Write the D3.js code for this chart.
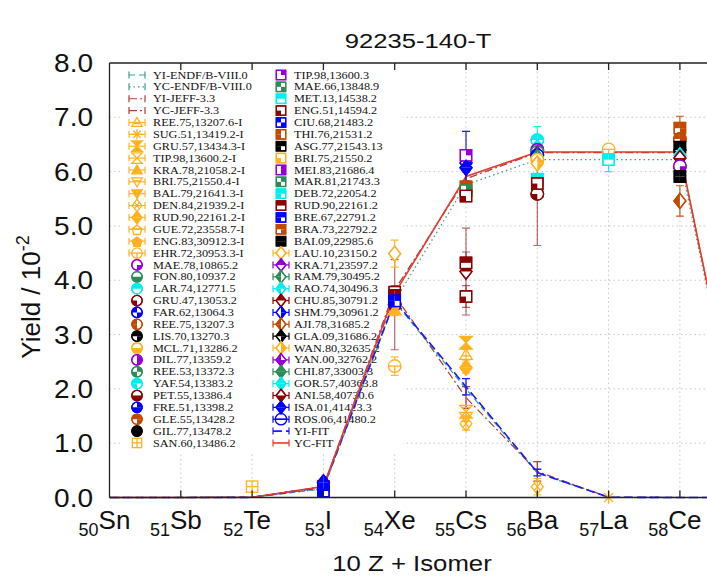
<!DOCTYPE html>
<html><head><meta charset="utf-8">
<script src="https://cdn.jsdelivr.net/npm/d3@7"></script>
<style>html,body{margin:0;padding:0;background:#fff;}svg{display:block;}</style>
</head><body>
<svg id="chart" width="707" height="576"></svg>
<script>
// ---------------- DATA ----------------
const title = "92235-140-T";
const zPositions = [500, 510, 520, 530, 540, 550, 560, 570, 580];
const zNumbers   = ["50", "51", "52", "53", "54", "55", "56", "57", "58"];
const zSymbols   = ["Sn", "Sb", "Te", "I", "Xe", "Cs", "Ba", "La", "Ce"];
const yTicks = [0, 1, 2, 3, 4, 5, 6, 7, 8];

// evaluated / fitted curves, x = 10 Z + isomer
const curveX   = [500, 510, 520, 530, 540, 550, 560, 570, 580, 590];
const yiEndf   = [0, 0, 0.003, 0.16, 3.60, 2.00, 0.45, 0.005, 0, 0];
const ycEndf   = [0, 0, 0.003, 0.16, 3.62, 5.76, 6.22, 6.22, 6.22, 0];
const yiJeff   = [0, 0, 0.003, 0.20, 3.72, 1.84, 0.48, 0.005, 0, 0];
const yiJeffErr= [0, 0, 0, 0.02, 0.15, 0.20, 0.18, 0, 0, 0];
const ycJeff   = [0, 0, 0.003, 0.20, 3.82, 5.87, 6.35, 6.35, 6.35, 0];
const yiFit    = [0, 0, 0.003, 0.19, 3.62, 2.04, 0.46, 0.005, 0, 0];
const yiFitErr = [0, 0, 0, 0.02, 0.10, 0.15, 0.06, 0, 0, 0];
const ycFit    = [0, 0, 0.005, 0.20, 3.76, 5.91, 6.36, 6.36, 6.36, 0];
const ycFitErr = [0, 0, 0, 0.02, 0.10, 0.08, 0.05, 0.05, 0.05, 0];

// legend labels (two columns)
const legendCol1 = ["YI-ENDF/B-VIII.0","YC-ENDF/B-VIII.0","YI-JEFF-3.3","YC-JEFF-3.3",
 "REE.75,13207.6-I","SUG.51,13419.2-I","GRU.57,13434.3-I","TIP.98,13600.2-I","KRA.78,21058.2-I",
 "BRI.75,21550.4-I","BAL.79,21641.3-I","DEN.84,21939.2-I","RUD.90,22161.2-I","GUE.72,23558.7-I",
 "ENG.83,30912.3-I","EHR.72,30953.3-I","MAE.78,10865.2","FON.80,10937.2","LAR.74,12771.5",
 "GRU.47,13053.2","FAR.62,13064.3","REE.75,13207.3","LIS.70,13270.3","MCL.71,13286.2",
 "DIL.77,13359.2","REE.53,13372.3","YAF.54,13383.2","PET.55,13386.4","FRE.51,13398.2",
 "GLE.55,13428.2","GIL.77,13478.2","SAN.60,13486.2"];
const legendCol2 = ["TIP.98,13600.3","MAE.66,13848.9","MET.13,14538.2","ENG.51,14594.2",
 "CIU.68,21483.2","THI.76,21531.2","ASG.77,21543.13","BRI.75,21550.2","MEI.83,21686.4",
 "MAR.81,21743.3","DEB.72,22054.2","RUD.90,22161.2","BRE.67,22791.2","BRA.73,22792.2",
 "BAI.09,22985.6","LAU.10,23150.2","KRA.71,23597.2","RAM.79,30495.2","RAO.74,30496.3",
 "CHU.85,30791.2","SHM.79,30961.2","AJI.78,31685.2","GLA.09,31686.2","WAN.80,32635.2",
 "YAN.00,32762.2","CHI.87,33003.3","GOR.57,40363.8","ANI.58,40730.6","ISA.01,41423.3",
 "ROS.06,41480.2","YI-FIT","YC-FIT"];

// experimental points: [dataset, x, yield, uncertainty]
const expData = [
 ["SAN.60,13486.2", 520, 0.20, 0.06],
 ["RUD.90,22161.2", 530, 0.20, 0.04],
 ["BRE.67,22791.2", 530, 0.12, 0.03],
 ["ISA.01,41423.3", 530, 0.28, 0.05],
 ["GRU.47,13053.2", 540, 3.55, 0.83],
 ["LAU.10,23150.2", 540, 4.49, 0.25],
 ["KRA.78,21058.2-I", 540, 3.45, 0.10],
 ["EHR.72,30953.3-I", 540, 2.42, 0.17],
 ["ENG.51,14594.2", 540, 3.78, 0.12],
 ["RUD.90,22161.2", 540, 3.72, 0.15],
 ["BRE.67,22791.2", 540, 3.62, 0.10],
 ["SHM.79,30961.2", 550, 6.16, 0.58],
 ["TIP.98,13600.3", 550, 6.30, 0],
 ["ISA.01,41423.3", 550, 6.07, 0],
 ["BRA.73,22792.2", 550, 5.72, 0],
 ["MAR.81,21743.3", 550, 5.65, 0],
 ["ENG.51,14594.2", 550, 5.55, 0.10],
 ["CHU.85,30791.2", 550, 4.16, 0.80],
 ["RUD.90,22161.2", 550, 4.32, 0.20],
 ["ENG.51,14594.2", 550, 3.70, 0.20],
 ["GRU.57,13434.3-I", 550, 2.85, 0.10],
 ["REE.75,13207.6-I", 550, 2.63, 0.10],
 ["RUD.90,22161.2-I", 550, 2.39, 0.10],
 ["TIP.98,13600.2-I", 550, 1.58, 0.08],
 ["BRI.75,21550.4-I", 550, 1.48, 0.08],
 ["DEN.84,21939.2-I", 550, 1.36, 0.12],
 ["GRU.47,13053.2", 560, 5.59, 0.95],
 ["LAR.74,12771.5", 560, 6.58, 0.25],
 ["GOR.57,40363.8", 560, 6.45, 0],
 ["DIL.77,13359.2", 560, 6.40, 0],
 ["FON.80,10937.2", 560, 6.36, 0],
 ["KRA.71,23597.2", 560, 6.33, 0],
 ["FAR.62,13064.3", 560, 6.30, 0],
 ["CHI.87,33003.3", 560, 6.27, 0],
 ["MCL.71,13286.2", 560, 6.22, 0],
 ["WAN.80,32635.2", 560, 6.15, 0],
 ["DEB.72,22054.2", 560, 5.86, 0.05],
 ["ENG.51,14594.2", 560, 5.78, 0],
 ["DEN.84,21939.2-I", 560, 0.20, 0.15],
 ["EHR.72,30953.3-I", 570, 6.41, 0.05],
 ["MET.13,14538.2", 570, 6.22, 0.22],
 ["SUG.51,13419.2-I", 570, 0.00, 0],
 ["BRA.73,22792.2", 580, 6.80, 0.22],
 ["GLE.55,13428.2", 580, 6.60, 0],
 ["ASG.77,21543.13", 580, 6.45, 0],
 ["GLA.09,31686.2", 580, 6.40, 0],
 ["GOR.57,40363.8", 580, 6.30, 0],
 ["ANI.58,40730.6", 580, 6.25, 0],
 ["MAE.78,10865.2", 580, 6.10, 0],
 ["BAI.09,22985.6", 580, 5.91, 0],
 ["AJI.78,31685.2", 580, 5.46, 0.28]
];

// ---------------- STYLES ----------------
const OR="#ffb21f", PU="#9400d3", GR="#2e8b57", CY="#00eeee", DR="#8b0000", BL="#0000ff", BR="#c04a00", BK="#000000";
// [shape, color, fill quadrants tl,tr,bl,br, legendBar]
const markerStyle = {
 "REE.75,13207.6-I":["triUpBar",OR,[0,0,0,0],1],
 "SUG.51,13419.2-I":["star",OR,[0,0,0,0],1],
 "GRU.57,13434.3-I":["hourFill",OR,[0,0,0,0],1],
 "TIP.98,13600.2-I":["hourglass",OR,[0,0,0,0],1],
 "KRA.78,21058.2-I":["triUp",OR,[1,1,1,1],1],
 "BRI.75,21550.4-I":["triDownBar",OR,[0,0,0,0],1],
 "BAL.79,21641.3-I":["triDown",OR,[1,1,1,1],1],
 "DEN.84,21939.2-I":["diamondX",OR,[0,0,0,0],1],
 "RUD.90,22161.2-I":["diamond",OR,[1,1,1,1],1],
 "GUE.72,23558.7-I":["pentBar",OR,[0,0,0,0],1],
 "ENG.83,30912.3-I":["pent",OR,[1,1,1,1],1],
 "EHR.72,30953.3-I":["circleT",OR,[0,0,0,0],1],
 "MAE.78,10865.2":["circle",PU,[0,0,0,1],0],
 "FON.80,10937.2":["circle",GR,[0,0,1,1],0],
 "LAR.74,12771.5":["circle",CY,[1,1,0,0],0],
 "GRU.47,13053.2":["circle",DR,[0,0,1,0],0],
 "FAR.62,13064.3":["circle",BL,[1,0,0,1],0],
 "REE.75,13207.3":["circle",BR,[1,0,1,0],0],
 "LIS.70,13270.3":["circle",BK,[1,1,0,1],0],
 "MCL.71,13286.2":["circle",OR,[0,0,1,1],0],
 "DIL.77,13359.2":["circle",PU,[0,1,0,1],0],
 "REE.53,13372.3":["circle",GR,[0,1,1,0],0],
 "YAF.54,13383.2":["circle",CY,[1,1,1,0],0],
 "PET.55,13386.4":["circle",DR,[0,0,1,1],0],
 "FRE.51,13398.2":["circle",BL,[0,1,1,1],0],
 "GLE.55,13428.2":["circle",BR,[1,1,0,1],0],
 "GIL.77,13478.2":["circle",BK,[1,1,1,1],0],
 "SAN.60,13486.2":["squareX",OR,[0,0,0,0],0],
 "TIP.98,13600.3":["square",PU,[0,1,0,0],0],
 "MAE.66,13848.9":["square",GR,[1,0,0,1],0],
 "MET.13,14538.2":["square",CY,[1,1,0,0],0],
 "ENG.51,14594.2":["square",DR,[0,0,1,0],0],
 "CIU.68,21483.2":["square",BL,[1,0,0,1],0],
 "THI.76,21531.2":["square",BR,[1,0,1,0],0],
 "ASG.77,21543.13":["square",BK,[1,1,1,0],0],
 "BRI.75,21550.2":["square",OR,[0,0,1,0],0],
 "MEI.83,21686.4":["square",PU,[0,1,0,1],0],
 "MAR.81,21743.3":["square",GR,[0,1,1,0],0],
 "DEB.72,22054.2":["square",CY,[1,1,1,0],0],
 "RUD.90,22161.2":["square",DR,[1,1,0,0],0],
 "BRE.67,22791.2":["square",BL,[1,1,1,0],0],
 "BRA.73,22792.2":["square",BR,[1,1,0,1],0],
 "BAI.09,22985.6":["square",BK,[1,1,1,1],0],
 "LAU.10,23150.2":["diamond",OR,[0,0,0,0],1],
 "KRA.71,23597.2":["diamond",PU,[1,1,0,0],1],
 "RAM.79,30495.2":["diamond",GR,[1,0,1,0],1],
 "RAO.74,30496.3":["diamond",CY,[1,1,1,0],1],
 "CHU.85,30791.2":["diamond",DR,[1,1,0,0],1],
 "SHM.79,30961.2":["diamond",BL,[0,1,0,1],1],
 "AJI.78,31685.2":["diamond",BR,[1,0,1,0],1],
 "GLA.09,31686.2":["diamond",BK,[1,1,0,1],1],
 "WAN.80,32635.2":["diamond",OR,[0,1,0,1],1],
 "YAN.00,32762.2":["diamond",PU,[1,0,1,1],1],
 "CHI.87,33003.3":["diamond",GR,[1,1,1,1],1],
 "GOR.57,40363.8":["diamond",CY,[1,1,1,1],1],
 "ANI.58,40730.6":["diamond",DR,[0,0,1,1],1],
 "ISA.01,41423.3":["diamond",BL,[1,1,1,1],1],
 "ROS.06,41480.2":["circleBar",BL,[0,0,0,0],1]
};
const curveStyle = {
 "YI-ENDF/B-VIII.0":{color:"#3aa08a", dash:"6,4", w:1.2},
 "YC-ENDF/B-VIII.0":{color:"#3aa08a", dash:"1.5,3", w:1.3},
 "YI-JEFF-3.3":{color:"#b03a3a", dash:"8,3,2,3", w:1.2},
 "YC-JEFF-3.3":{color:"#b03a3a", dash:"8,3,2,3", w:1.2},
 "YI-FIT":{color:"#1a1aff", dash:"9,4", w:1.6},
 "YC-FIT":{color:"#e8392c", dash:null, w:1.6}
};

// ---------------- DRAWING ----------------
const svg = d3.select("#chart");
const x = d3.scaleLinear().domain([500, 590]).range([109.5, 751.2]);
const y = d3.scaleLinear().domain([0, 8]).range([497.5, 63]);
const sansFont = "'Liberation Sans', Arial, Helvetica, sans-serif";
const serifFont = "'Liberation Serif', 'Times New Roman', serif";

svg.append("defs").append("clipPath").attr("id","plotclip")
  .append("rect").attr("x",109.5).attr("y",40).attr("width",640).attr("height",470);

// grid
const grid = svg.append("g").attr("stroke","#c8c8c8").attr("stroke-width",1).attr("stroke-dasharray","1.5,3");
yTicks.slice(1, -1).forEach(v => grid.append("line").attr("x1",x(500)).attr("x2",707).attr("y1",y(v)).attr("y2",y(v)));
zPositions.slice(1).forEach(v => grid.append("line").attr("x1",x(v)).attr("x2",x(v)).attr("y1",y(8)).attr("y2",y(0)));

// key box (opaque)
svg.append("rect").attr("x",123).attr("y",66).attr("width",280).attr("height",386).attr("fill","#fff");

// marker drawing
function quadPath(shape, r, q) {
  const sx = (q===1||q===3) ? 1 : -1, sy = (q===2||q===3) ? 1 : -1;
  if (shape === "circle") {
    const p = d3.path(); p.moveTo(0,0); p.lineTo(sx*r,0);
    p.arc(0,0,r, sx>0?0:Math.PI, sy>0?Math.PI/2:-Math.PI/2, (sx*sy)<0); p.closePath(); return p.toString();
  }
  if (shape === "square") { const s=r*0.9; return `M0,0H${sx*s}V${sy*s}H0Z`; }
  if (shape === "diamond") { const h=r*1.2, w=r*0.95; return `M0,0L${sx*w},0L0,${sy*h}Z`; }
  return "";
}
function drawMarker(g, name, cx, cy, r) {
  const st = markerStyle[name]; if (!st) return;
  const [shape, col, fill] = st;
  const m = g.append("g").attr("transform",`translate(${cx},${cy})`)
    .attr("stroke",col).attr("stroke-width",1.3).attr("fill","none");
  const h=r*1.2, w=r*0.95, s=r*0.9;
  const tri = (dir) => `M${-r},${-dir*r*0.75}L${r},${-dir*r*0.75}L0,${dir*r*0.95}Z`;
  switch (shape) {
    case "circle": case "square": case "diamond": {
      const outline = () => shape==="circle" ? m.append("circle").attr("r",r)
        : shape==="square" ? m.append("rect").attr("x",-s).attr("y",-s).attr("width",2*s).attr("height",2*s)
        : m.append("path").attr("d",`M0,${-h}L${w},0L0,${h}L${-w},0Z`);
      outline().attr("fill","#fff");
      fill.forEach((f,i) => { if (f) m.append("path").attr("d",quadPath(shape,r,i)).attr("fill",col).attr("stroke","none"); });
      outline();
      break; }
    case "triUp": m.append("path").attr("d",tri(-1)).attr("fill",col); break;
    case "triUpBar": m.append("path").attr("d",tri(-1)); m.append("line").attr("x1",-r*0.6).attr("x2",r*0.6).attr("y1",r*0.2).attr("y2",r*0.2); break;
    case "triDown": m.append("path").attr("d",tri(1)).attr("fill",col); break;
    case "triDownBar": m.append("path").attr("d",tri(1)); m.append("line").attr("x1",-r*0.6).attr("x2",r*0.6).attr("y1",-r*0.2).attr("y2",-r*0.2); break;
    case "hourglass": m.append("path").attr("d",`M${-r},${-r}L${r},${-r}L${-r},${r}L${r},${r}Z`); break;
    case "hourFill": m.append("path").attr("d",`M${-r},${-r}L${r},${-r}L${-r},${r}L${r},${r}Z`).attr("fill",col); break;
    case "star": [0,45,90,135].forEach(a => { const c=Math.cos(a*Math.PI/180)*r, sn=Math.sin(a*Math.PI/180)*r;
        m.append("line").attr("x1",-c).attr("y1",-sn).attr("x2",c).attr("y2",sn); }); break;
    case "diamondX": m.append("path").attr("d",`M0,${-h}L${w},0L0,${h}L${-w},0Z`);
        m.append("path").attr("d",`M${-w/2},${-h/2}L${w/2},${h/2}M${w/2},${-h/2}L${-w/2},${h/2}`); break;
    case "pent": case "pentBar": {
        const pts = d3.range(5).map(i => { const a=-Math.PI/2+i*2*Math.PI/5; return [r*Math.cos(a), r*Math.sin(a)+1]; });
        m.append("path").attr("d","M"+pts.join("L")+"Z").attr("fill",shape==="pent"?col:"none");
        if (shape==="pentBar") m.append("line").attr("x1",-r*0.8).attr("x2",r*0.8).attr("y1",-r*0.1).attr("y2",-r*0.1);
        break; }
    case "circleT": m.append("circle").attr("r",r).attr("fill","#fff");
        m.append("line").attr("x1",-r).attr("x2",r).attr("y1",0).attr("y2",0);
        m.append("line").attr("x1",0).attr("x2",0).attr("y1",0).attr("y2",r); break;
    case "circleBar": m.append("circle").attr("r",r*1.1).attr("fill","none");
        m.append("line").attr("x1",-r*1.1).attr("x2",r*1.1).attr("y1",0).attr("y2",0); break;
    case "squareX": m.append("rect").attr("x",-s).attr("y",-s).attr("width",2*s).attr("height",2*s).attr("fill","#fff");
        m.append("path").attr("d",`M${-s},0H${s}M0,${-s}V${s}`); break;
  }
}

// legend
const legend = svg.append("g");
const rowY = i => 75 + i * 11.87;
function legendEntry(name, sx, tx, i) {
  const ly = rowY(i);
  const g = legend.append("g");
  const cs = curveStyle[name];
  if (cs) {
    g.append("line").attr("x1",sx-8).attr("x2",sx+8).attr("y1",ly).attr("y2",ly)
      .attr("stroke",cs.color).attr("stroke-width",cs.w).attr("stroke-dasharray",cs.dash);
    [sx-8, sx+8].forEach(xx => g.append("line").attr("x1",xx).attr("x2",xx).attr("y1",ly-3.5).attr("y2",ly+3.5)
      .attr("stroke",cs.color).attr("stroke-width",1.2));
  } else {
    const st = markerStyle[name];
    if (st && st[3]) {
      g.append("line").attr("x1",sx-8).attr("x2",sx+8).attr("y1",ly).attr("y2",ly).attr("stroke",st[1]).attr("stroke-width",1.2);
      [sx-8, sx+8].forEach(xx => g.append("line").attr("x1",xx).attr("x2",xx).attr("y1",ly-3.5).attr("y2",ly+3.5).attr("stroke",st[1]).attr("stroke-width",1.2));
    }
    drawMarker(g, name, sx, ly, 5.2);
  }
  g.append("text").attr("transform",`translate(${tx},${ly+3.6}) scale(1.2,1)`)
    .attr("font-family",serifFont).attr("font-size",10.2).attr("fill","#111").text(name);
}
legendCol1.forEach((n,i) => legendEntry(n, 137, 153, i));
legendCol2.forEach((n,i) => legendEntry(n, 281, 294, i));

// curves
const plot = svg.append("g").attr("clip-path","url(#plotclip)");
function drawCurve(vals, name, errs) {
  const cs = curveStyle[name];
  const line = d3.line().x((d,i)=>x(curveX[i])).y(d=>y(d));
  plot.append("path").datum(vals).attr("d",line).attr("fill","none").attr("stroke",cs.color)
    .attr("stroke-width",cs.w).attr("stroke-dasharray",cs.dash);
  if (errs) vals.forEach((v,i) => { if (errs[i] > 0) {
    const xx = x(curveX[i]);
    plot.append("path").attr("d",`M${xx},${y(v-errs[i])}V${y(v+errs[i])}M${xx-4},${y(v-errs[i])}h8M${xx-4},${y(v+errs[i])}h8`)
      .attr("stroke",cs.color).attr("stroke-width",1.3).attr("fill","none");
  }});
}

const expG = svg.append("g");
expData.forEach(([n, xv, yv, e]) => {
  if (e > 0) {
    const col = markerStyle[n][1], xx = x(xv);
    expG.append("path").attr("d",`M${xx},${y(yv-e)}V${y(yv+e)}M${xx-4},${y(yv-e)}h8M${xx-4},${y(yv+e)}h8`)
      .attr("stroke",col).attr("stroke-width",1.2).attr("fill","none").attr("opacity",col===DR?0.6:0.9);
  }
});
drawCurve(ycEndf, "YC-ENDF/B-VIII.0");
drawCurve(yiEndf, "YI-ENDF/B-VIII.0");
drawCurve(ycJeff, "YC-JEFF-3.3");
drawCurve(yiJeff, "YI-JEFF-3.3", yiJeffErr);
expData.forEach(([n, xv, yv]) => drawMarker(expG, n, x(xv), y(yv), 6.3));
drawCurve(yiFit, "YI-FIT", yiFitErr);
drawCurve(ycFit, "YC-FIT", ycFitErr);

// axes frame and ticks
const ax = svg.append("g").attr("stroke","#222").attr("stroke-width",1.3);
ax.append("line").attr("x1",x(500)).attr("x2",707).attr("y1",y(0)).attr("y2",y(0));
ax.append("line").attr("x1",x(500)).attr("x2",707).attr("y1",y(8)).attr("y2",y(8));
ax.append("line").attr("x1",x(500)).attr("x2",x(500)).attr("y1",y(0)).attr("y2",y(8));
zPositions.slice(1).forEach(v => {
  ax.append("line").attr("x1",x(v)).attr("x2",x(v)).attr("y1",y(0)).attr("y2",y(0)-7);
  ax.append("line").attr("x1",x(v)).attr("x2",x(v)).attr("y1",y(8)).attr("y2",y(8)+7);
});

// y tick labels
svg.append("g").selectAll("text").data(yTicks).join("text")
  .attr("transform",d=>`translate(93,${y(d)+9}) scale(1.12,1)`).attr("text-anchor","end")
  .attr("font-family",sansFont).attr("font-size",25).attr("fill","#111")
  .text(d=>d.toFixed(1));

// x tick labels
const xl = svg.append("g");
zPositions.forEach((v,i) => {
  const t = xl.append("text").attr("transform",`translate(${x(v)-5},529)`).attr("text-anchor","middle")
    .attr("font-family",sansFont).attr("fill","#111");
  t.append("tspan").attr("font-size",18).attr("dy",7).text(zNumbers[i]);
  t.append("tspan").attr("font-size",26).attr("dy",-7).text(zSymbols[i]);
});

// axis titles
svg.append("text").attr("transform","translate(412,571) scale(1.12,1)").attr("text-anchor","middle")
  .attr("font-family",sansFont).attr("font-size",23).attr("fill","#111").text("10 Z + Isomer");
const yl = svg.append("text").attr("transform","translate(40,297) rotate(-90)").attr("text-anchor","middle")
  .attr("font-family",sansFont).attr("font-size",26).attr("fill","#111");
yl.append("tspan").text("Yield / 10");
yl.append("tspan").attr("font-size",18).attr("dy",-11).text("-2");

svg.append("text").attr("transform","translate(418,48) scale(1.22,1)").attr("text-anchor","middle")
  .attr("font-family",sansFont).attr("font-size",21).attr("fill","#111").text(title);
</script>
</body></html>
